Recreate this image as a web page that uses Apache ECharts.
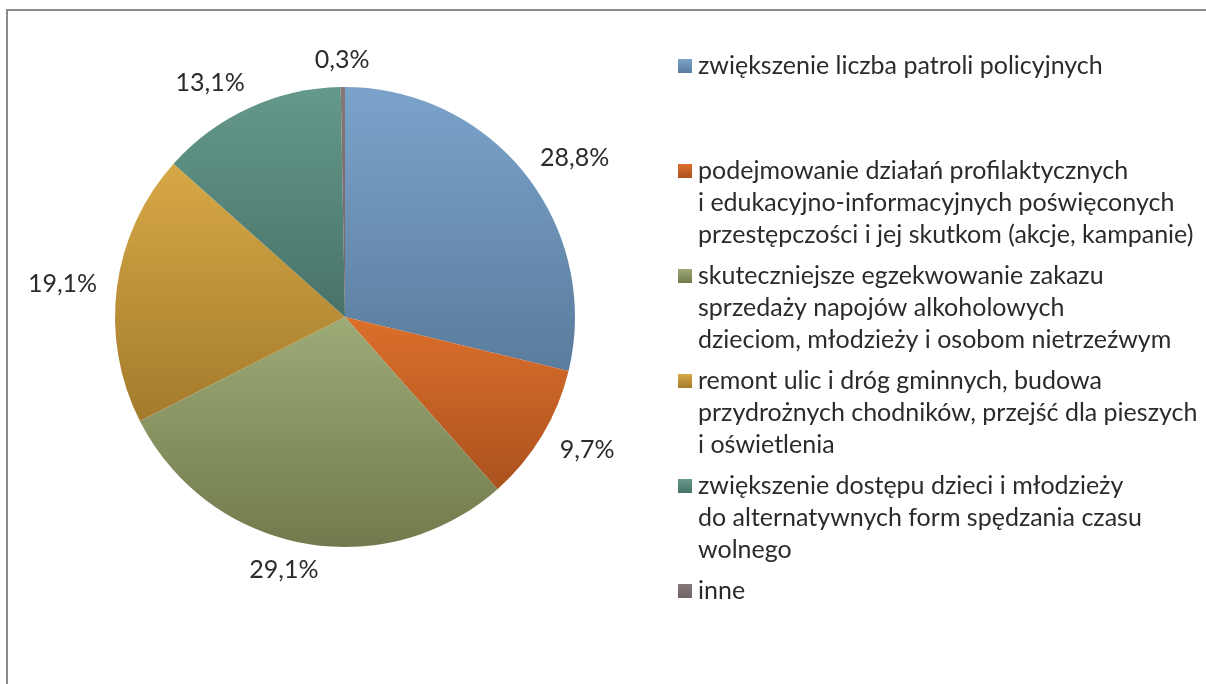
<!DOCTYPE html>
<html>
<head>
<meta charset="utf-8">
<script src="https://cdn.jsdelivr.net/npm/echarts@6/dist/echarts.min.js"></script>
<style>
  html, body { margin: 0; padding: 0; background: #ffffff; }
  #chart { width: 1206px; height: 684px; }
</style>
</head>
<body>
<div id="chart"></div>
<script>
// Categories (short names for the slices)
const categories = [
  'zwiększenie liczba patroli policyjnych',
  'podejmowanie działań profilaktycznych i edukacyjno-informacyjnych poświęconych przestępczości i jej skutkom (akcje, kampanie)',
  'skuteczniejsze egzekwowanie zakazu sprzedaży napojów alkoholowych dzieciom, młodzieży i osobom nietrzeźwym',
  'remont ulic i dróg gminnych, budowa przydrożnych chodników, przejść dla pieszych i oświetlenia',
  'zwiększenie dostępu dzieci i młodzieży do alternatywnych form spędzania czasu wolnego',
  'inne'
];

// Legend text, broken into lines as printed (first entry keeps two empty lines)
const legendLines = [
  ['zwiększenie liczba patroli policyjnych', '', ''],
  ['podejmowanie działań profilaktycznych', 'i edukacyjno-informacyjnych poświęconych', 'przestępczości i jej skutkom (akcje, kampanie)'],
  ['skuteczniejsze egzekwowanie zakazu', 'sprzedaży napojów alkoholowych', 'dzieciom, młodzieży i osobom nietrzeźwym'],
  ['remont ulic i dróg gminnych, budowa', 'przydrożnych chodników, przejść dla pieszych', 'i oświetlenia'],
  ['zwiększenie dostępu dzieci i młodzieży', 'do alternatywnych form spędzania czasu', 'wolnego'],
  ['inne']
];

// Shares in percent
const shares = [28.8, 9.7, 29.1, 19.1, 13.1, 0.3];

// Slice fills: light at the top, darker at the bottom
const topColors    = ['#7ba3ca', '#dc6f2b', '#9dab77', '#d7a846', '#64998b', '#857878'];
const bottomColors = ['#5a7c9d', '#aa521e', '#717a4c', '#a37b2c', '#487268', '#6f6364'];

const FONT = 'Lato, "Open Sans", sans-serif';
const FONT_SIZE = 25;
const TEXT_COLOR = '#2b2b2b';

const LEGEND_X = 678;
const LEGEND_TEXT_X = 698;
const LEGEND_FIRST_Y = 66;
const LINE_H = 32;
const ITEM_GAP = 9;
const SWATCH = 14;

const chart = echarts.init(document.getElementById('chart'), null, { renderer: 'canvas' });

function fmtPct(v) {
  return v.toFixed(1).replace('.', ',') + '%';
}

// Legend drawn as swatch + lines of text
const legendGraphics = [];
let y = LEGEND_FIRST_Y;
legendLines.forEach((lines, i) => {
  legendGraphics.push({
    type: 'rect',
    shape: { x: LEGEND_X, y: y - SWATCH / 2, width: SWATCH, height: SWATCH },
    style: {
      fill: new echarts.graphic.LinearGradient(0, 0, 0, 1, [
        { offset: 0, color: topColors[i] },
        { offset: 1, color: bottomColors[i] }
      ])
    },
    silent: true
  });
  lines.forEach((txt, k) => {
    if (!txt) return;
    legendGraphics.push({
      type: 'text',
      style: {
        text: txt,
        x: LEGEND_TEXT_X,
        y: y + k * LINE_H,
        fill: TEXT_COLOR,
        font: FONT_SIZE + 'px ' + FONT,
        verticalAlign: 'middle',
        align: 'left'
      },
      silent: true
    });
  });
  y += lines.length * LINE_H + ITEM_GAP;
});

// Outer frame of the chart area
legendGraphics.push({
  type: 'rect',
  shape: { x: 7, y: 10, width: 1220, height: 700 },
  style: { fill: 'none', stroke: '#8a8a8a', lineWidth: 2 },
  silent: true,
  z: -1
});

// Distance from the rim to the label anchor, and how quickly labels
// swing from centred (top/bottom) to edge-aligned (left/right)
const LABEL_OFFSET = 27;
const SIDE_RAMP = 0.4;
const SIDE_SHIFT = 0.8;

const option = {
  backgroundColor: '#ffffff',
  animation: false,
  graphic: legendGraphics,
  series: [{
    type: 'pie',
    center: [345, 317],
    radius: [0, 230],
    startAngle: 90,
    clockwise: true,
    avoidLabelOverlap: false,
    padAngle: 0,
    itemStyle: { borderWidth: 0 },
    label: {
      show: true,
      position: 'outside',
      formatter: p => fmtPct(p.value),
      color: TEXT_COLOR,
      fontFamily: FONT,
      fontSize: FONT_SIZE
    },
    labelLine: {
      show: true,
      length: 10,
      length2: 0,
      lineStyle: { opacity: 0, width: 0 }
    },
    labelLayout: function (p) {
      const pts = p.labelLinePoints;
      if (!pts || pts.length < 2) return {};
      const ex = pts[0][0], ey = pts[0][1];
      let dx = pts[1][0] - ex, dy = pts[1][1] - ey;
      const len = Math.hypot(dx, dy) || 1;
      dx /= len; dy /= len;
      const w = p.labelRect.width / 2;
      const side = Math.min(1, Math.abs(dx) / SIDE_RAMP) * Math.sign(dx);
      return {
        x: ex + dx * LABEL_OFFSET + side * w * SIDE_SHIFT,
        y: ey + dy * LABEL_OFFSET,
        align: 'center',
        verticalAlign: 'middle'
      };
    },
    emphasis: { disabled: true },
    data: shares.map((v, i) => ({
      name: categories[i],
      value: v,
      itemStyle: {
        color: new echarts.graphic.LinearGradient(0, 0, 0, 1, [
          { offset: 0, color: topColors[i] },
          { offset: 1, color: bottomColors[i] }
        ])
      }
    }))
  }]
};

chart.setOption(option);
</script>
</body>
</html>
